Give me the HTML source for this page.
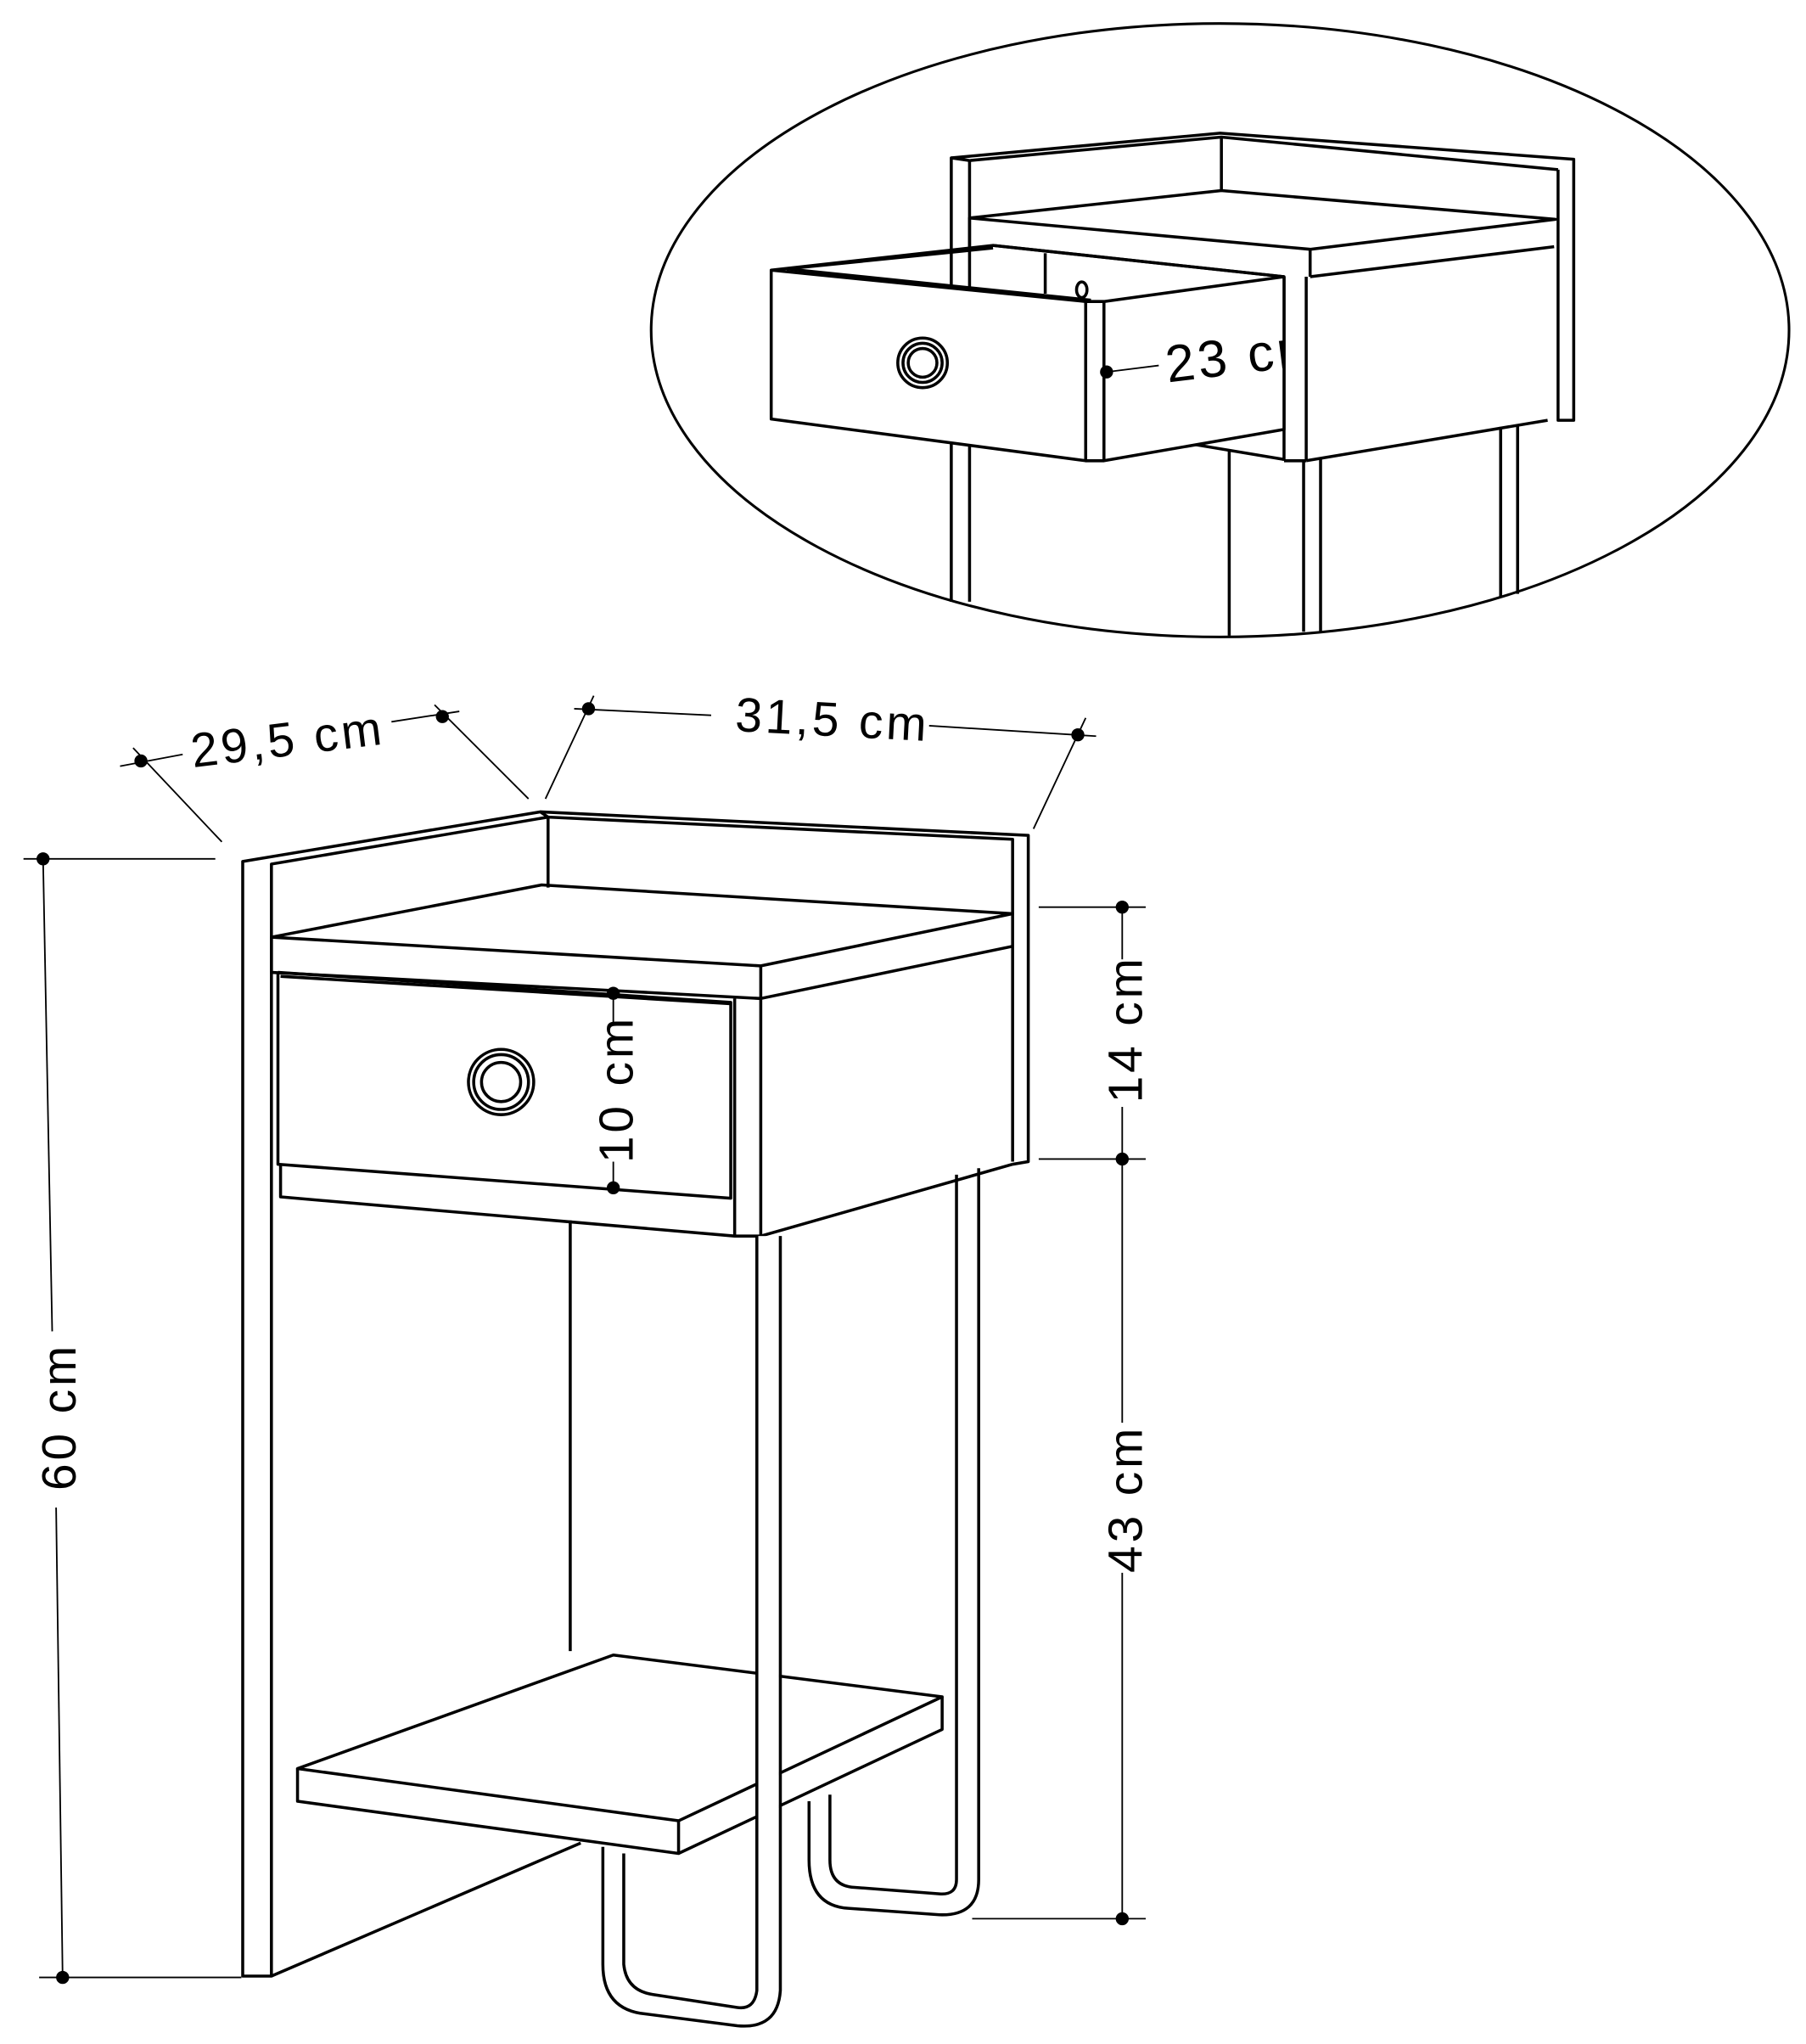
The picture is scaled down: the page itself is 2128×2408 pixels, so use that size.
<!DOCTYPE html>
<html><head><meta charset="utf-8"><style>html,body{margin:0;padding:0;background:#fff}svg{display:block}</style></head>
<body>
<svg width="2128" height="2408" viewBox="0 0 1384 1566" preserveAspectRatio="none" xmlns="http://www.w3.org/2000/svg">
<defs><clipPath id="c23"><rect x="880" y="240" width="104" height="70"/></clipPath></defs>
<g fill="none" stroke="#000" stroke-width="2.3" stroke-linejoin="round">
<ellipse cx="935" cy="253" rx="436" ry="235" stroke-width="2"/>
<polyline points="729,461 729,121 935,102 1206,122 1206,322 1194,322 1194,130"/>
<polyline points="729,121 743,123 936,105 1194,130"/>
<line x1="743" y1="123" x2="743" y2="461"/>
<line x1="936" y1="105" x2="936" y2="146"/>
<polygon points="743,167 936,146 1192,168 1004,191"/>
<polyline points="743,167 743,189"/>
<line x1="1004" y1="191" x2="1004" y2="212"/>
<line x1="1004" y1="212" x2="1191" y2="189"/>
<line x1="761" y1="188" x2="984" y2="212"/>
<line x1="984" y1="212" x2="984" y2="353"/>
<line x1="1001" y1="212" x2="1001" y2="353"/>
<line x1="984" y1="353" x2="1001" y2="353"/>
<line x1="1001" y1="353" x2="1186" y2="322"/>
<line x1="912" y1="340" x2="984" y2="352"/>
<line x1="999" y1="353" x2="999" y2="484"/>
<line x1="1012" y1="351" x2="1012" y2="484"/>
<line x1="942" y1="345" x2="942" y2="487"/>
<line x1="1150" y1="327" x2="1150" y2="458"/>
<line x1="1163" y1="325" x2="1163" y2="455"/>
<polygon points="591,207 832,231 832,353 591,321" fill="#fff"/>
<polyline points="591,207 761,188 984,212"/>
<polyline points="603,206 761,190"/>
<polyline points="603,206 836,230"/>
<line x1="801" y1="194" x2="801" y2="225"/>
<polygon points="832,231 846,231 984,212 984,329 846,353 832,353" fill="#fff"/>
<line x1="846" y1="231" x2="846" y2="353"/>
<ellipse cx="829" cy="222" rx="4" ry="6"/>
<circle cx="707" cy="278" r="19"/>
<circle cx="707" cy="278" r="15"/>
<circle cx="707" cy="278" r="11"/>
<line x1="848" y1="285" x2="888" y2="280" stroke-width="1.2"/>
<!-- main -->
<polygon points="186,660 414,622 420,626 208,662 208,1514 186,1514"/>
<line x1="208" y1="1514" x2="445" y2="1412"/>
<polyline points="414,622 788,640 788,890 776,892"/>
<polyline points="420,626 776,643 776,890"/>
<line x1="420" y1="626" x2="420" y2="680"/>
<polygon points="208,718 415,678 776,700 583,740 208,718"/>
<polyline points="208,718 208,745 583,765 583,740"/>
<polyline points="583,765 776,725"/>
<polyline points="213,745 560,768 560,918 213,892 213,745"/>
<polyline points="215,748 560,769"/>
<line x1="563" y1="765" x2="563" y2="947"/>
<polyline points="215,893 215,917 563,947 583,947"/>
<line x1="583" y1="765" x2="583" y2="947"/>
<line x1="583" y1="947" x2="776" y2="892"/>
<circle cx="384" cy="829" r="25"/>
<circle cx="384" cy="829" r="21"/>
<circle cx="384" cy="829" r="15"/>
<line x1="437" y1="935" x2="437" y2="1265"/>
<path d="M733,900 L733,1440 Q733,1452 720,1451 L655,1446 Q636,1445 636,1425 L636,1375"/>
<path d="M750,895 L750,1440 Q750,1468 720,1467 L650,1462 Q620,1460 620,1425 L620,1380"/>
<polygon points="228,1355 470,1268 722,1300 520,1395 228,1355" fill="#fff"/>
<polyline points="228,1355 228,1380 520,1420 520,1395"/>
<polyline points="520,1420 722,1325 722,1300"/>
<rect x="581" y="947" width="16" height="580" fill="#fff" stroke="none"/>
<path d="M580,947 L580,1525 Q578,1540 565,1538 L500,1528 Q480,1525 478,1505 L478,1420"/>
<path d="M598,947 L598,1525 Q596,1555 565,1552 L495,1543 Q462,1540 462,1505 L462,1415"/>
<g stroke-width="1.2">
<line x1="33" y1="658" x2="40" y2="1020"/><line x1="43" y1="1155" x2="48" y2="1515"/>
<line x1="18" y1="658" x2="165" y2="658"/><line x1="30" y1="1515" x2="185" y2="1515"/>
<line x1="860" y1="695" x2="860" y2="735"/><line x1="860" y1="848" x2="860" y2="1090"/><line x1="860" y1="1205" x2="860" y2="1470"/>
<line x1="796" y1="695" x2="878" y2="695"/><line x1="796" y1="888" x2="878" y2="888"/><line x1="745" y1="1470" x2="878" y2="1470"/>
<line x1="470" y1="761" x2="470" y2="785"/><line x1="470" y1="890" x2="470" y2="910"/>
<line x1="92" y1="587" x2="140" y2="578"/><line x1="300" y1="553" x2="352" y2="545"/>
<line x1="102" y1="573" x2="170" y2="645"/><line x1="333" y1="540" x2="405" y2="612"/>
<line x1="440" y1="543" x2="545" y2="548"/><line x1="712" y1="556" x2="840" y2="564"/>
<line x1="455" y1="533" x2="418" y2="612"/><line x1="832" y1="550" x2="792" y2="635"/>
</g>
</g>
<g fill="#000">
<circle cx="33" cy="658" r="5"/><circle cx="48" cy="1515" r="5"/>
<circle cx="860" cy="695" r="5"/><circle cx="860" cy="888" r="5"/><circle cx="860" cy="1470" r="5"/>
<circle cx="470" cy="761" r="5"/><circle cx="470" cy="910" r="5"/>
<circle cx="108" cy="583" r="5"/><circle cx="339" cy="549" r="5"/>
<circle cx="451" cy="543" r="5"/><circle cx="826" cy="563" r="5"/>
<circle cx="848" cy="285" r="5"/>
</g>
<g font-family="Liberation Sans, sans-serif" font-size="37" fill="#000" letter-spacing="2.5">
<text x="148" y="588" transform="rotate(-7 148 588)">29,5 cm</text>
<text x="563" y="560" transform="rotate(3 563 560)">31,5 cm</text>
<g clip-path="url(#c23)"><text x="895" y="293" font-size="40" transform="rotate(-7 895 293)">23 cm</text></g>
<text transform="translate(58,1142) rotate(-90)">60 cm</text>
<text transform="translate(875,845) rotate(-90)">14 cm</text>
<text transform="translate(875,1205) rotate(-90)">43 cm</text>
<text transform="translate(485,891) rotate(-90)">10 cm</text>
</g>
</svg>
</body></html>
